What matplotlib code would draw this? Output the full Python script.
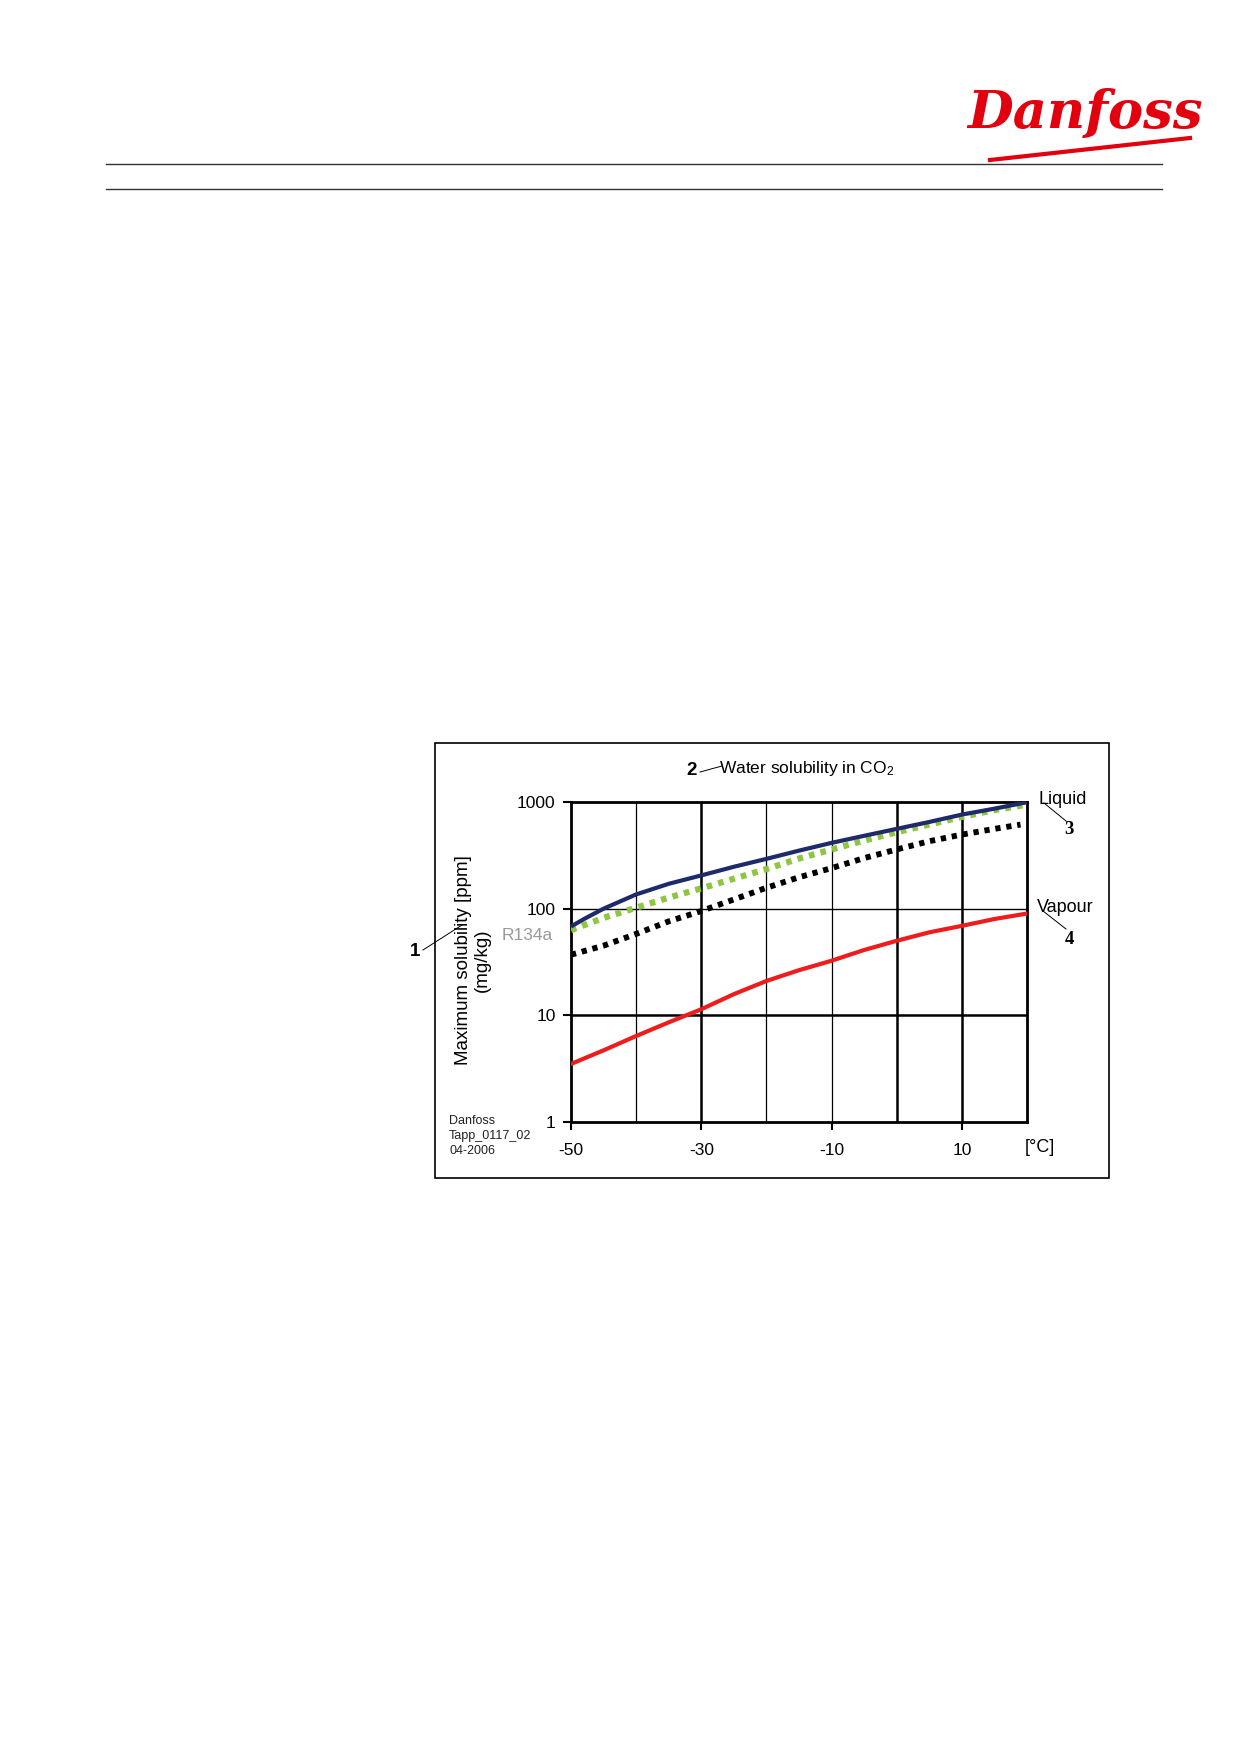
import matplotlib
matplotlib.use("Agg")
import matplotlib.pyplot as plt
from matplotlib.lines import Line2D
from matplotlib.patches import Rectangle

plt.rcParams['font.family'] = ['Liberation Sans Narrow', 'Liberation Sans', 'DejaVu Sans']
plt.rcParams['mathtext.fontset'] = 'custom'
plt.rcParams['mathtext.rm'] = 'Liberation Sans'
plt.rcParams['mathtext.it'] = 'Liberation Sans'

# ---- data ----
temps = [-50, -48, -45, -40, -35, -30, -25, -20, -15, -10, -5, 0, 5, 10, 15, 20]
liquid_co2 = [68, 80, 100, 136, 171, 205, 247, 293, 350, 414, 482, 560, 650, 762, 866, 995]
r134a = [63, 70, 82, 102, 127, 155, 191, 235, 295, 359, 435, 521, 615, 724, 840, 945]
black_temps = [-50, -45, -40, -35, -30, -25, -20, -15, -10, -5, 0, 5, 10, 15, 19]
black_vals = [37, 45, 58, 76, 95, 122, 157, 197, 240, 298, 359, 429, 495, 560, 614]
vapour_temps = [-50, -45, -40, -35, -30, -25, -20, -15, -10, -5, 0, 5, 10, 15, 20]
vapour_co2 = [3.5, 4.7, 6.4, 8.6, 11.4, 15.8, 21.0, 26.5, 32.5, 41, 50, 60, 69, 80, 90]

x_ticks = [-50, -30, -10, 10]
y_ticks = [1, 10, 100, 1000]
y_ticklabels = ['1', '10', '100', '1000']

W, H = 1239, 1754
fig = plt.figure(figsize=(W / 100, H / 100), dpi=100)

def fx(x):
    return x / W

def fy(y):
    return 1 - y / H

# header lines
for yy in (164, 189):
    fig.add_artist(Line2D([fx(106), fx(1162)], [fy(yy), fy(yy)], color='#333333', lw=1.0))

# logo
fig.text(fx(1085), fy(114), 'Danfoss', color='#E2000F', fontsize=38, fontweight='bold',
         fontstyle='italic', family=['DejaVu Serif'], ha='center', va='center')
fig.add_artist(Line2D([fx(990), fx(1190)], [fy(160), fy(138)], color='#E2000F', lw=3))

# frame box
fig.add_artist(Rectangle((fx(435), fy(1178)), (1109 - 435) / W, (1178 - 743) / H,
                         transform=fig.transFigure, fill=False, edgecolor='black', lw=1.2))

# axes
ax_l, ax_r, ax_t, ax_b = 571, 1027, 802, 1122
ax = fig.add_axes([fx(ax_l), fy(ax_b), (ax_r - ax_l) / W, (ax_b - ax_t) / H])
ax.set_yscale('log')
ax.set_xlim(-50, 20)
ax.set_ylim(1, 1000)

# grid
for xv in range(-40, 20, 10):
    thick = xv in (-30, 0, 10)
    ax.axvline(xv, color='black', lw=1.8 if thick else 0.9, zorder=1)
ax.axhline(100, color='black', lw=1.0, zorder=1)
ax.axhline(10, color='black', lw=1.8, zorder=1)
for sp in ax.spines.values():
    sp.set_linewidth(2.0)

ax.plot(temps, liquid_co2, color='#1F2A6B', lw=3.0, zorder=4, solid_capstyle='butt')
ax.plot(temps, r134a, color='#8DC63F', lw=4.5, dashes=(0.9, 1.0), zorder=3,
        dash_capstyle='butt')
ax.plot(black_temps, black_vals, color='black', lw=4.2, dashes=(0.9, 1.0), zorder=3,
        dash_capstyle='butt')
ax.plot(vapour_temps, vapour_co2, color='#EE1C1C', lw=3.0, zorder=4)

ax.set_xticks(x_ticks)
ax.set_xticklabels([str(t) for t in x_ticks])
ax.set_yticks(y_ticks)
ax.set_yticklabels(y_ticklabels)
ax.yaxis.set_minor_locator(matplotlib.ticker.NullLocator())
ax.tick_params(axis='both', direction='out', length=6, width=1.5, labelsize=12.5)
ax.tick_params(axis='x', pad=9)
ax.tick_params(axis='y', pad=5)

# texts
fig.text(fx(692), fy(771), '2', fontsize=13.5, fontweight='bold', ha='center', va='center')
fig.add_artist(Line2D([fx(700), fx(722)], [fy(772), fy(766)], color='black', lw=0.7))
fig.text(fx(719), fy(768), r'Water solubility in CO$_{2}$', fontsize=12.5, ha='left', va='center')

fig.text(fx(1038), fy(799), 'Liquid', fontsize=13, ha='left', va='center')
fig.add_artist(Line2D([fx(1044), fx(1066)], [fy(803), fy(821)], color='black', lw=0.7))
fig.text(fx(1069), fy(830), '3', fontsize=13.5, fontweight='bold', ha='center', va='center',
         family=['Liberation Serif', 'DejaVu Serif'])

fig.text(fx(1037), fy(907), 'Vapour', fontsize=13, ha='left', va='center')
fig.add_artist(Line2D([fx(1043), fx(1066)], [fy(911), fy(929)], color='black', lw=0.7))
fig.text(fx(1069), fy(939), '4', fontsize=13.5, fontweight='bold', ha='center', va='center',
         family=['Liberation Serif', 'DejaVu Serif'])

fig.text(fx(415), fy(952), '1', fontsize=13.5, fontweight='bold', ha='center', va='center')
fig.add_artist(Line2D([fx(423), fx(462)], [fy(950), fy(925)], color='black', lw=0.7))

fig.text(fx(473), fy(960), 'Maximum solubility [ppm]\n(mg/kg)', fontsize=13.5, rotation=90,
         ha='center', va='center', multialignment='center', linespacing=1.1)
fig.text(fx(553), fy(936), 'R134a', fontsize=12.5, color='#9A9A9A', ha='right', va='center')

fig.text(fx(1025), fy(1148), '[°C]', fontsize=13, ha='left', va='center')

fig.text(fx(449), fy(1136), 'Danfoss\nTapp_0117_02\n04-2006', fontsize=9, ha='left', va='center',
         linespacing=1.3, color='#222222')

fig.savefig('out.png', dpi=100, facecolor='white')
